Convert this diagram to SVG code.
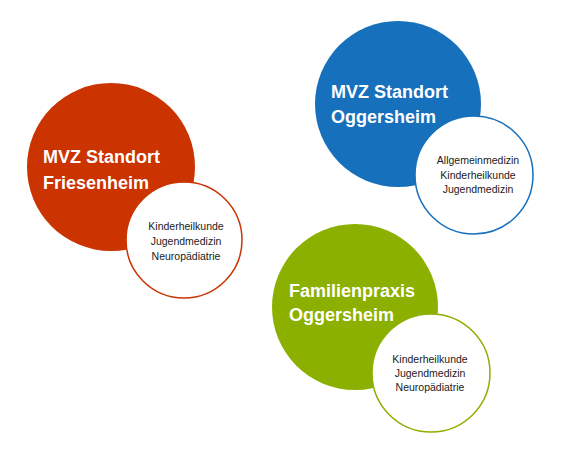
<svg xmlns="http://www.w3.org/2000/svg" width="571" height="457" viewBox="0 0 571 457">
<style>
.title{font-family:"Liberation Sans",Arial,sans-serif;font-weight:bold;font-size:18px;fill:#ffffff}
.sub{font-family:"Liberation Sans",Arial,sans-serif;font-size:10.5px;fill:#1a1a1a;text-anchor:middle}
.inner{fill:#ffffff;stroke-width:1.5}
</style>
<rect width="571" height="457" fill="#ffffff"/>
<g id="friesenheim">
<circle cx="111" cy="167" r="84" fill="#CB3300"/>
<text class="title" x="43" y="163">MVZ Standort</text>
<text class="title" x="43" y="189">Friesenheim</text>
<circle class="inner" cx="184" cy="240" r="58" stroke="#CB3300"/>
<text class="sub" x="186" y="230">Kinderheilkunde</text>
<text class="sub" x="186" y="245">Jugendmedizin</text>
<text class="sub" x="186" y="260">Neuropädiatrie</text>
</g>
<g id="oggersheim-mvz">
<circle cx="398" cy="104" r="83" fill="#1770BC"/>
<text class="title" x="331" y="98">MVZ Standort</text>
<text class="title" x="331" y="123">Oggersheim</text>
<circle class="inner" cx="474" cy="175" r="59" stroke="#1770BC"/>
<text class="sub" x="478" y="164">Allgemeinmedizin</text>
<text class="sub" x="478" y="179">Kinderheilkunde</text>
<text class="sub" x="478" y="193">Jugendmedizin</text>
</g>
<g id="familienpraxis">
<circle cx="355" cy="307" r="83" fill="#8CB000"/>
<text class="title" x="289" y="297">Familienpraxis</text>
<text class="title" x="289" y="321">Oggersheim</text>
<circle class="inner" cx="431" cy="373" r="59" stroke="#8CB000"/>
<text class="sub" x="430" y="363">Kinderheilkunde</text>
<text class="sub" x="430" y="377">Jugendmedizin</text>
<text class="sub" x="430" y="391">Neuropädiatrie</text>
</g>
</svg>
